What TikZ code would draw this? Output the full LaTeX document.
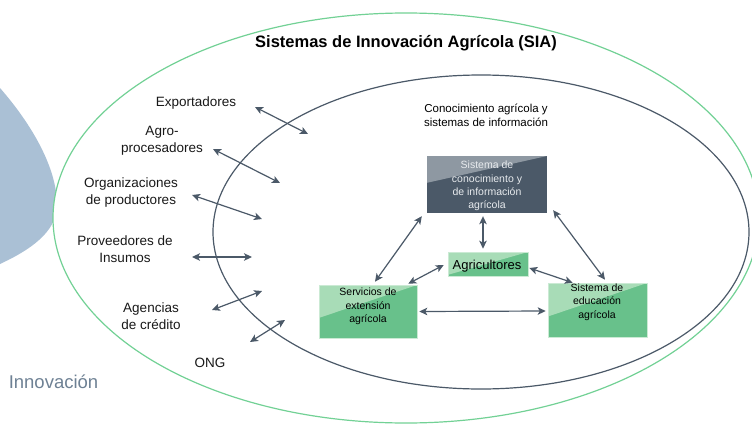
\documentclass[tikz,border=0pt]{standalone}
\usepackage{fontspec}
\setmainfont{Liberation Sans}
\usetikzlibrary{arrows.meta,calc}
\definecolor{slate}{HTML}{4B5968}
\definecolor{slatelight}{HTML}{8E98A2}
\definecolor{greenline}{HTML}{72D195}
\definecolor{greenlight}{HTML}{A8DCB7}
\definecolor{greendark}{HTML}{68C18B}
\definecolor{blueshape}{HTML}{AAC0D5}
\definecolor{innov}{HTML}{6E8194}
\definecolor{boxtxt}{HTML}{E8EBEE}
\begin{document}
\begin{tikzpicture}[x=1pt,y=-1pt,
  lbl/.style={align=center,inner sep=0pt,text=black!90,font=\fontsize{13.5}{17}\selectfont},
  arr/.style={draw=slate,line width=1.2pt,{Stealth[length=8pt,width=7.5pt,inset=2pt]}-{Stealth[length=8pt,width=7.5pt,inset=2pt]}},
  tri/.style 2 args={path picture={\fill[#1] (path picture bounding box.north west) -- (path picture bounding box.north east) -- ($(path picture bounding box.north west)!#2!(path picture bounding box.south west)$) -- cycle;}},
  gbox/.style={fill=greendark,draw=greenlight!60!white,line width=0.6pt,inner sep=0pt,tri={greenlight}{#1}},
  btxt/.style={align=center,inner sep=0pt,font=\fontsize{10.5}{13.3}\selectfont}
]
\useasboundingbox (0,0) rectangle (752,423);
\clip (0,0) rectangle (752,423);
\fill[white] (0,0) rectangle (752,423);
% blue shape
\fill[blueshape] (0,88) .. controls (28,120) and (57,165) .. (57,205)
  .. controls (57,232) and (30,250) .. (0,264) -- cycle;
% outer ellipse
\draw[greenline,line width=1.2pt,fill=white] (406,218) ellipse [x radius=353, y radius=205];
% inner ellipse
\draw[slate,line width=1.2pt] (481,232) ellipse [x radius=268, y radius=157];
% texts
\node[font=\fontsize{16.5}{20}\selectfont\bfseries,inner sep=0pt] (title) at (406,43) {Sistemas de Innovación Agrícola (SIA)};
\node[inner sep=0pt,text=innov,font=\fontsize{18.5}{22}\selectfont] (innov) at (53.5,382) {Innovación};
\node[align=center,inner sep=0pt,font=\fontsize{11.5}{14}\selectfont] (cono) at (486,115) {Conocimiento agrícola y\\sistemas de información};
\node[lbl] (exp) at (196,103) {Exportadores};
\node[lbl] (agro) at (162,141) {Agro-\\procesadores};
\node[lbl] (org) at (131,193) {Organizaciones\\de productores};
\node[lbl] (prov) at (125,249.5) {Proveedores de\\Insumos};
\node[lbl] (agen) at (151,316) {Agencias\\de crédito};
\node[lbl] (ong) at (210,363) {ONG};
% outer arrows
\coordinate (e1) at (255,107); \coordinate (e2) at (308,134);
\coordinate (a1) at (213,149); \coordinate (a2) at (280,183);
\coordinate (o1) at (192,195); \coordinate (o2) at (262,219);
\coordinate (p1) at (192,257); \coordinate (p2) at (252,257);
\coordinate (g1) at (212,310); \coordinate (g2) at (262,291);
\coordinate (n1) at (250,342); \coordinate (n2) at (285,320);
\draw[arr] (e1) -- (e2);
\draw[arr] (a1) -- (a2);
\draw[arr] (o1) -- (o2);
\draw[arr] (p1) -- (p2);
\draw[arr] (g1) -- (g2);
\draw[arr] (n1) -- (n2);
% boxes
\node[fill=slate,inner sep=0pt,minimum width=120pt,minimum height=57pt,tri={slatelight}{0.47}] (dk) at (487,184.5) {};
\node[btxt,text=boxtxt] at (487,186) {Sistema de\\conocimiento y\\de información\\agrícola};
\node[gbox=0.95,minimum width=80pt,minimum height=24pt] (agr) at (488,264) {};
\node[inner sep=0pt,font=\fontsize{13}{15}\selectfont] at (487,266) {Agricultores};
\node[gbox=0.62,minimum width=98pt,minimum height=53pt] (serv) at (368,311.5) {};
\node[btxt] at (368,306.5) {Servicios de\\extensión\\agrícola};
\node[gbox=0.62,minimum width=99pt,minimum height=54pt] (edu) at (597.5,310) {};
\node[btxt] at (597,302) {Sistema de\\educación\\agrícola};
% inner arrows
\draw[arr] ($(dk.south)+(-4,3)$) -- ($(agr.north)+(-5,-3)$);
\draw[arr] ($(dk.south west)+(-5,3)$) -- ($(serv.north)+(7,-3)$);
\draw[arr] ($(dk.south east)+(6,-3)$) -- ($(edu.north)+(7.5,-3)$);
\draw[arr] ($(agr.west)+(-4,1)$) -- ($(serv.north east)+(-9,-1)$);
\draw[arr] ($(agr.east)+(1,4)$) -- ($(edu.north west)+(25,0)$);
\draw[arr] ($(serv.east)+(2,0)$) -- ($(edu.west)+(-2,1)$);
\end{tikzpicture}
\end{document}
